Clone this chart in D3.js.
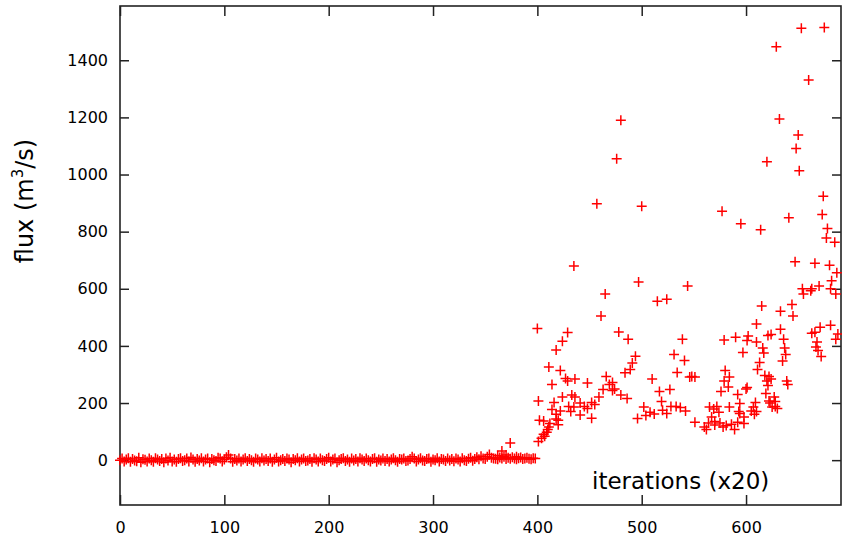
<!DOCTYPE html>
<html>
<head>
<meta charset="utf-8">
<script src="https://cdnjs.cloudflare.com/ajax/libs/d3/7.8.5/d3.min.js"></script>
<style>
  html, body { margin: 0; padding: 0; background: #ffffff; }
  svg { display: block; }
  text { font-family: "DejaVu Sans", sans-serif; fill: #000; }
</style>
</head>
<body>
<svg id="chart" width="842" height="537"></svg>
<script>
// ---------------- data ----------------
// quiet phase: one sample every 2 iterations starting at 0 (flux near zero)
const quietStart = 0;
const quietStep = 2;
const quietFlux = [
  0, 6, -5, 2, 7, -6, 4, -1, -4, 8, -7, 3, 1, -5, 6, 0, -6, 7, 2, -3,
  4, -7, 6, -1, 8, -5, 2, -6, 4, 7, -3, 0, 6, -5, 9, 2, -6, 4, -1, 7,
  -5, 2, 6, -7, 4, 0, -3, 8, 6, -5, 2, 10, 18, 6, -6, 4, -1, 6, -5, 2,
  7, -3, 4, 0, -6, 6, 2, -5, 7, -1, 4, -3, 6, -6, 2, 8, -5, 0, 4, -3,
  6, 2, -7, 4, 0, 7, -5, 2, 6, -3, -1, 4, -6, 7, 2, -5, 6, 0, -3, 4,
  8, -5, 2, 6, -7, 0, 4, 7, -3, 2, -6, 6, -1, 4, -5, 7, 2, -3, 6, 0,
  -5, 4, 7, -6, 2, -1, 6, -3, 4, -5, 2, 7, 0, -6, 4, 2, 6, -3, -1, 4,
  12, 6, -5, 2, 7, -1, -3, 4, 6, -6, 2, 0, 7, -5, 4, 2, -3, 6, -1, 4,
  -4, 6, 2, -5, 7, 0, -3, 5, 8, -2, 4, 10, 3, 14, 6, 4, 12, 20, 8, 6,
  5, 3, 9, 6, 12, 4, 8, 5, 10, 6, 3, 7, 9, 4, 6, 8, 5, 3, 7, 6
];

// active phase: scattered samples (iteration, flux)
const activeIter = [
  366, 374, 362, 370, 380,
  400, 401, 404, 406, 407, 409, 410, 411, 402, 406, 412, 420, 420, 401, 416,
  424, 433, 436, 430, 435, 441, 445, 448, 441, 452, 455, 452, 422, 418, 414,
  411, 422, 414, 427, 429, 436, 448, 418, 424, 429, 435, 459, 463, 466, 469,
  461, 465, 418, 432,
  457, 476, 480, 478, 487, 494, 491, 489, 484, 472, 474, 472, 480, 486, 497,
  500, 515, 524, 544, 539, 531, 541, 534, 546, 510, 517, 527, 519, 502, 496,
  504, 508, 512, 520, 524, 528, 533, 537, 542, 548, 551, 551,
  565, 569, 572, 574, 567, 570, 564, 560, 562, 570, 575, 581, 586, 589, 592,
  584, 594, 593, 598, 598, 605, 607, 609, 610, 608, 580, 584, 579, 583, 576,
  592, 600, 601, 613, 611, 618, 620, 621, 610, 602, 601, 597, 590, 579, 610,
  616, 617, 621, 615, 577, 595, 614, 620, 578, 594,
  622, 624, 639, 640, 619, 627, 622, 625, 628, 630, 628, 623, 633, 644, 645,
  624, 633, 636, 637, 638, 635, 663, 666, 671, 681, 686, 688, 668, 667, 669,
  672, 647, 666, 680, 687, 654, 655, 662, 663, 670, 682, 681, 686, 629, 632,
  650, 648, 651, 653, 675, 660, 674, 673, 641, 678, 677, 685
];
const activeFlux = [
  32, 60, 15, 18, 12,
  461, 65, 77, 91, 84, 98, 107, 116, 140, 137, 128, 140, 124, 207, 202,
  221, 228, 221, 188, 186, 200, 188, 181, 158, 202, 195, 147, 172, 161, 177,
  326, 314, 265, 286, 277, 284, 270, 386, 416, 447, 680, 221, 247, 293, 265,
  505, 582, 144, 170,
  898, 1055, 1190, 449, 423, 364, 340, 317, 306, 272, 249, 244, 228, 216, 624,
  889, 556, 563, 610, 423, 370, 349, 307, 291, 284, 240, 247, 205, 186, 146,
  156, 168, 162, 175, 163, 188, 188, 184, 172, 293, 291, 133,
  186, 179, 188, 168, 151, 135, 130, 116, 107, 123, 130, 121, 126, 107, 133,
  186, 198, 170, 151, 128, 172, 186, 202, 170, 161, 314, 291, 277, 256, 240,
  230, 249, 254, 342, 317, 296, 277, 261, 477, 435, 419, 377, 430, 421, 414,
  393, 375, 436, 540, 871, 828, 807, 1045, 116, 163,
  293, 284, 277, 265, 233, 221, 207, 186, 188, 181, 205, 200, 521, 545, 505,
  440, 458, 423, 393, 370, 347, 444, 448, 465, 472, 423, 442, 414, 396, 384,
  363, 695, 689, 682, 656, 600, 582, 593, 600, 610, 628, 600, 582, 1447, 1194,
  1138, 1091, 1013, 1512, 1515, 1331, 924, 860, 849, 811, 778, 763
];

const xTicks = [0, 100, 200, 300, 400, 500, 600];
const yTicks = [0, 200, 400, 600, 800, 1000, 1200, 1400];
const xLabel = "iterations (x20)";

// ---------------- chart ----------------
const svg = d3.select("#chart");
const mLeft = 120, mRight = 841, mTop = 6, mBottom = 505;

const x = d3.scaleLinear().domain([0, 691]).range([mLeft, mRight]);
const y = d3.scaleLinear().domain([-157, 1590]).range([mBottom, mTop]);

const points = [];
quietFlux.forEach((v, i) => points.push({ it: quietStart + i * quietStep, f: v }));
activeIter.forEach((it, i) => points.push({ it: it, f: activeFlux[i] }));

// axes (ticks inward, mirrored)
const axStroke = "#222";
function styleAxis(g) {
  g.select(".domain").remove();
  g.selectAll(".tick line").attr("stroke", axStroke).attr("stroke-width", 1.5);
  g.selectAll(".tick text").attr("font-size", 16).attr("font-family", "DejaVu Sans, sans-serif").attr("fill", "#000");
}

svg.append("g").attr("transform", `translate(0,${mBottom})`)
  .call(d3.axisBottom(x).tickValues(xTicks).tickSizeInner(-10).tickSizeOuter(0).tickPadding(17).tickFormat(d3.format("d")))
  .call(styleAxis);
svg.append("g").attr("transform", `translate(0,${mTop})`)
  .call(d3.axisTop(x).tickValues(xTicks).tickSizeInner(-10).tickSizeOuter(0).tickFormat(""))
  .call(styleAxis);
svg.append("g").attr("transform", `translate(${mLeft},0)`)
  .call(d3.axisLeft(y).tickValues(yTicks).tickSizeInner(-9).tickSizeOuter(0).tickPadding(12).tickFormat(d3.format("d")))
  .call(styleAxis);
svg.append("g").attr("transform", `translate(${mRight},0)`)
  .call(d3.axisRight(y).tickValues(yTicks).tickSizeInner(-9).tickSizeOuter(0).tickFormat(""))
  .call(styleAxis);

svg.append("rect")
  .attr("x", mLeft).attr("y", mTop)
  .attr("width", mRight - mLeft).attr("height", mBottom - mTop)
  .attr("fill", "none").attr("stroke", axStroke).attr("stroke-width", 1.6);

// markers
svg.append("g").selectAll("path.pt").data(points).join("path")
  .attr("class", "pt")
  .attr("transform", d => `translate(${x(d.it)},${y(d.f)})`)
  .attr("d", "M-5,0H5M0,-5V5")
  .attr("stroke", "#ff0000")
  .attr("stroke-width", 1.5)
  .attr("fill", "none");

// labels
svg.append("text")
  .attr("x", 592).attr("y", 489)
  .attr("font-size", 23)
  .text(xLabel);

const yl = svg.append("text")
  .attr("transform", "translate(33,201) rotate(-90)")
  .attr("text-anchor", "middle")
  .attr("font-size", 24);
yl.append("tspan").text("flux (m");
yl.append("tspan").attr("dy", -10).attr("font-size", 15).text("3");
yl.append("tspan").attr("dy", 10).text("/s)");
</script>
</body>
</html>
